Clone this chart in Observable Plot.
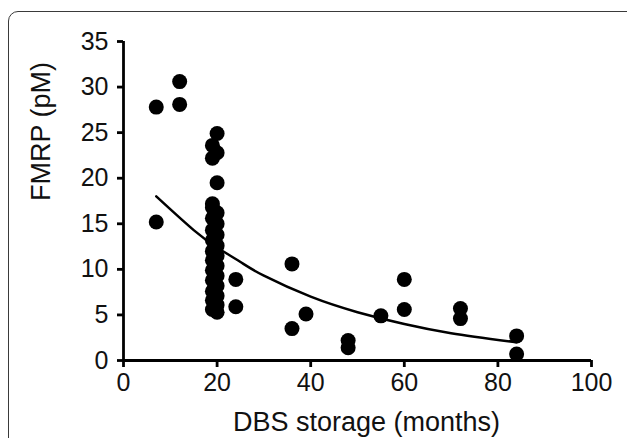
<!DOCTYPE html>
<html>
<head>
<meta charset="utf-8">
<script src="https://cdn.jsdelivr.net/npm/d3@7"></script>
<script src="https://cdn.jsdelivr.net/npm/@observablehq/plot@0.6"></script>
<style>
  html, body { margin: 0; padding: 0; background: #fff; overflow: hidden; }
  #wrap { position: relative; width: 627px; height: 438px; }
  #frame { position: absolute; left: 8px; top: 11px; width: 640px; height: 460px;
           border: 1.5px solid #3a3a3a; border-radius: 10px; box-sizing: border-box; }
  #chart { position: absolute; left: 0; top: 0; }
</style>
</head>
<body>
<div id="wrap"><div id="frame"></div><div id="chart"></div></div>
<script>
// DBS storage (months) and FMRP (pM) for each sample
const months = [7, 7, 12, 12,
  20, 19, 20, 19, 20, 19,
  19, 20, 19, 20, 19, 20, 19, 20, 19, 20, 19, 20, 19, 20, 19, 20, 19, 20, 19, 20, 19, 20,
  24, 24, 36, 36, 39, 48, 48, 55, 60, 60, 72, 72, 84, 84];
const fmrp = [27.8, 15.2, 30.6, 28.1,
  24.9, 23.6, 22.8, 22.2, 19.5, 17.2,
  16.8, 16.2, 15.6, 15.0, 14.3, 13.8, 13.2, 12.6, 12.0, 11.5, 11.0, 10.4, 9.9, 9.3, 8.8, 8.2, 7.6, 7.1, 6.6, 6.1, 5.6, 5.3,
  8.9, 5.9, 10.6, 3.5, 5.1, 2.2, 1.4, 4.9, 8.9, 5.6, 5.7, 4.6, 2.7, 0.7];

// fitted decay curve
const fitMonths = [7, 15, 20, 25, 30, 40, 50, 60, 70, 84];
const fitValues = [18.0, 14.3, 12.4, 10.8, 9.3, 7.0, 5.3, 4.0, 3.0, 2.0];

const xTicks = [0, 20, 40, 60, 80, 100];
const yTicks = [0, 5, 10, 15, 20, 25, 30, 35];

const points = months.map((m, i) => ({m, v: fmrp[i]}));
const fit = fitMonths.map((m, i) => ({m, v: fitValues[i]}));

const chart = Plot.plot({
  width: 627,
  height: 438,
  marginLeft: 123,
  marginRight: 36,
  marginTop: 41,
  marginBottom: 78,
  style: {fontFamily: "'Liberation Sans', Arial, sans-serif", background: "transparent", color: "#111"},
  x: {domain: [0, 100]},
  y: {domain: [0, 35]},
  marks: [
    Plot.axisX(xTicks, {tickSize: 7, tickPadding: 6, fontSize: 25, strokeWidth: 2.8, stroke: "#000", label: null}),
    Plot.axisY(yTicks, {tickSize: 6, tickPadding: 9, fontSize: 25, strokeWidth: 2.8, stroke: "#000", label: null}),
    Plot.ruleY([0], {x1: 0, x2: 100, stroke: "#000", strokeWidth: 2.8}),
    Plot.ruleX([0], {y1: 0, y2: 35, stroke: "#000", strokeWidth: 2.8}),
    Plot.line(fit, {x: "m", y: "v", curve: "natural", stroke: "#000", strokeWidth: 2.5}),
    Plot.dot(points, {x: "m", y: "v", r: 7.5, fill: "#000", stroke: null}),
    Plot.text(["FMRP (pM)"], {frameAnchor: "left", dx: -82, rotate: -90, fontSize: 27, fill: "#111"}),
    Plot.text(["DBS storage (months)"], {frameAnchor: "bottom", dx: 9, dy: 70, fontSize: 27, fill: "#111"})
  ]
});
document.getElementById("chart").appendChild(chart);
</script>
</body>
</html>
